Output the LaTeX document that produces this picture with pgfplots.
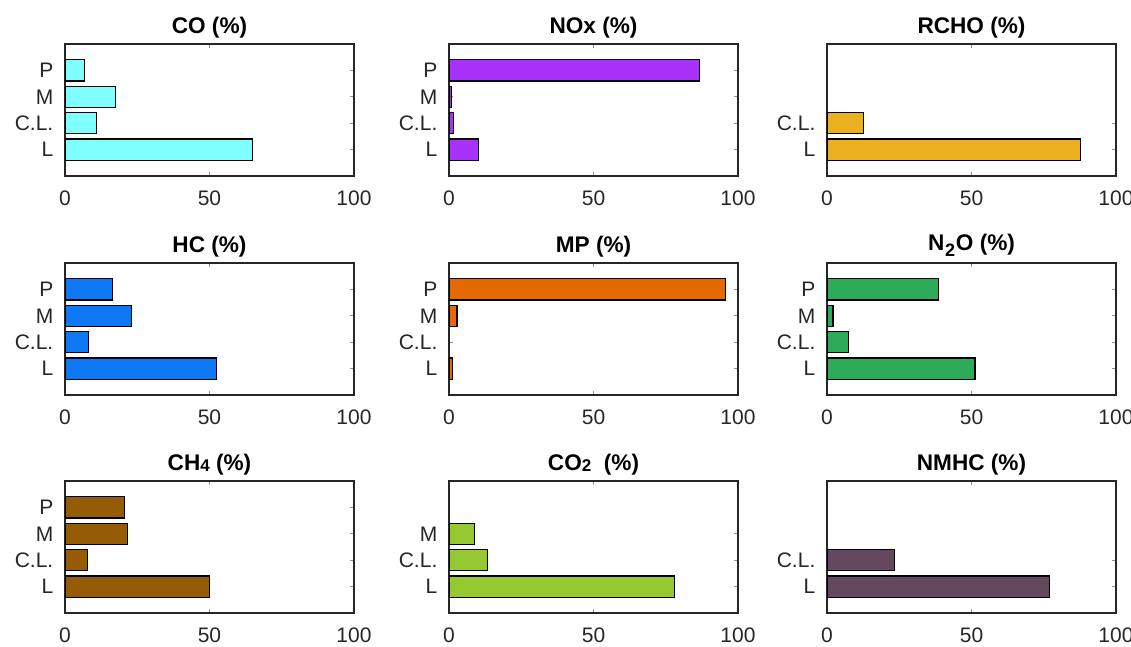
\documentclass[border=0pt]{standalone}
\usepackage{fontspec}
\setmainfont{Liberation Sans}
\usepackage{pgfplots}
\pgfplotsset{compat=1.18}
\definecolor{axc}{RGB}{38,38,38}
\definecolor{cCO}{RGB}{128,255,255}
\definecolor{cNOx}{RGB}{168,50,250}
\definecolor{cRCHO}{RGB}{234,176,32}
\definecolor{cHC}{RGB}{15,120,245}
\definecolor{cMP}{RGB}{230,105,0}
\definecolor{cNtwoO}{RGB}{45,170,90}
\definecolor{cCH}{RGB}{150,92,5}
\definecolor{cCOtwo}{RGB}{150,200,50}
\definecolor{cNMHC}{RGB}{100,72,95}
\pgfplotsset{
  myax/.style={
    scale only axis, width=144.5pt, height=66pt,
    anchor=south west,
    xmin=0, xmax=100, ymin=0, ymax=5,
    xtick={0,50,100},
    xbar, bar shift=0pt, bar width=0.8,
    axis line style={line width=0.6pt, draw=axc},
    tick align=inside, major tick length=2pt,
    tick style={draw=axc!50, line width=0.4pt},
    ticklabel style={font=\fontsize{10.5}{12}\selectfont, color=axc},
    /pgf/number format/assume math mode=true,
    xticklabel style={yshift=-4pt},
    yticklabel style={xshift=-2.3pt},
    title style={font=\bfseries\fontsize{11.3}{13}\selectfont, at={(0.5,1)}, anchor=south, yshift=-6.5pt},
  },
  four/.style={ytick={1,2,3,4}, yticklabels={L,C.L.,M,P}},
  three/.style={ytick={1,2,3}, yticklabels={L,C.L.,M}},
  two/.style={ytick={1,2}, yticklabels={L,C.L.}},
  bs/.style={draw=black, line width=0.6pt, fill=#1},
}
\newcommand{\sub}[1]{{\fontsize{8.5}{9}\selectfont\raisebox{-0.15ex}{#1}}}
\begin{document}
\begin{tikzpicture}
\useasboundingbox (0,0) rectangle (565.5pt,323.5pt);
% Row 1
\begin{axis}[myax, four, at={(32.5pt,235.5pt)}, title={CO (\%)}]
\addplot[bs=cCO] coordinates {(64.9,1) (11.0,2) (17.5,3) (6.7,4)};
\end{axis}
\begin{axis}[myax, four, at={(224.5pt,235.5pt)}, title={NOx (\%)}]
\addplot[bs=cNOx] coordinates {(10.2,1) (1.6,2) (1.0,3) (86.6,4)};
\end{axis}
\begin{axis}[myax, two, at={(413.5pt,235.5pt)}, title={RCHO (\%)}]
\addplot[bs=cRCHO] coordinates {(87.7,1) (12.5,2)};
\end{axis}
% Row 2
\begin{axis}[myax, four, at={(32.5pt,126pt)}, title={HC (\%)}]
\addplot[bs=cHC] coordinates {(52.4,1) (8.2,2) (22.9,3) (16.4,4)};
\end{axis}
\begin{axis}[myax, four, at={(224.5pt,126pt)}, title={MP (\%)}]
\addplot[bs=cMP] coordinates {(1.1,1) (2.8,3) (95.7,4)};
\end{axis}
\begin{axis}[myax, four, at={(413.5pt,126pt)}, title={N\kern0.4pt\raisebox{-0.55ex}{\fontsize{9}{10}\selectfont 2}\kern0.4pt O (\%)}]
\addplot[bs=cNtwoO] coordinates {(51.2,1) (7.5,2) (2.1,3) (38.7,4)};
\end{axis}
% Row 3
\begin{axis}[myax, four, at={(32.5pt,17pt)}, title={CH\sub{4} (\%)}]
\addplot[bs=cCH] coordinates {(49.9,1) (7.7,2) (21.6,3) (20.7,4)};
\end{axis}
\begin{axis}[myax, three, at={(224.5pt,17pt)}, title={CO\sub{2}\ \ (\%)}]
\addplot[bs=cCOtwo] coordinates {(78.0,1) (13.4,2) (8.7,3)};
\end{axis}
\begin{axis}[myax, two, at={(413.5pt,17pt)}, title={NMHC (\%)}]
\addplot[bs=cNMHC] coordinates {(77.1,1) (23.4,2)};
\end{axis}
\end{tikzpicture}
\end{document}
